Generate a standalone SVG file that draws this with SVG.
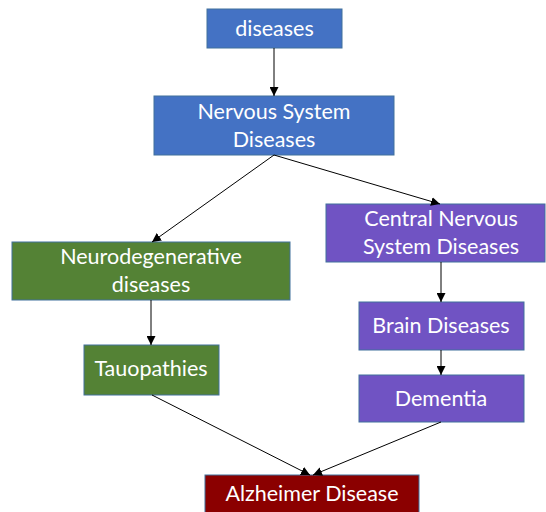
<svg xmlns="http://www.w3.org/2000/svg" width="546" height="512" viewBox="0 0 546 512">
<defs>
<marker id="ah" viewBox="0 0 10 10" refX="10" refY="5" markerWidth="9" markerHeight="9" markerUnits="userSpaceOnUse" orient="auto">
<path d="M0,0 L10,5 L0,10 z" fill="#000"/>
</marker>
<style>
rect{stroke:#41719C;stroke-width:1}
.b{fill:#4472C4}.g{fill:#548235}.p{fill:#7053C3}.r{fill:#8B0000}
text{font-family:Lato,"Liberation Sans",sans-serif;font-size:21.5px;fill:#fff;text-anchor:middle;dominant-baseline:central}
.c line{stroke:#000;stroke-width:1;marker-end:url(#ah)}
</style>
</defs>
<rect width="546" height="512" fill="#fff" style="stroke:none"/>
<g id="n1"><rect class="b" x="207" y="9" width="135" height="39"/><text x="274.5" y="28">diseases</text></g>
<g id="n2"><rect class="b" x="154" y="96" width="240" height="59"/><text x="274" y="111">Nervous System</text><text x="274" y="139">Diseases</text></g>
<g id="n3"><rect class="g" x="12" y="242" width="278" height="58"/><text x="151" y="256">Neurodegenerative</text><text x="151" y="284">diseases</text></g>
<g id="n4"><rect class="p" x="326" y="204" width="219" height="58"/><text x="441" y="218">Central Nervous</text><text x="441" y="246">System Diseases</text></g>
<g id="n5"><rect class="p" x="359" y="302" width="165" height="48"/><text x="441" y="325">Brain Diseases</text></g>
<g id="n6"><rect class="g" x="84" y="345" width="135" height="50"/><text x="151" y="368">Tauopathies</text></g>
<g id="n7"><rect class="p" x="359" y="375" width="165" height="47"/><text x="441" y="398">Dementia</text></g>
<g id="n8"><rect class="r" x="205" y="475" width="214" height="42"/><text x="312" y="493">Alzheimer Disease</text></g>
<g class="c" id="connectors">
<line x1="274" y1="48" x2="274" y2="96"/>
<line x1="274" y1="155" x2="152" y2="242"/>
<line x1="274" y1="155" x2="440" y2="204"/>
<line x1="151" y1="300" x2="151" y2="345"/>
<line x1="441" y1="262" x2="441" y2="302"/>
<line x1="441" y1="350" x2="441" y2="375"/>
<line x1="152" y1="395" x2="310" y2="475"/>
<line x1="441" y1="422" x2="313" y2="475"/>
</g>
</svg>
